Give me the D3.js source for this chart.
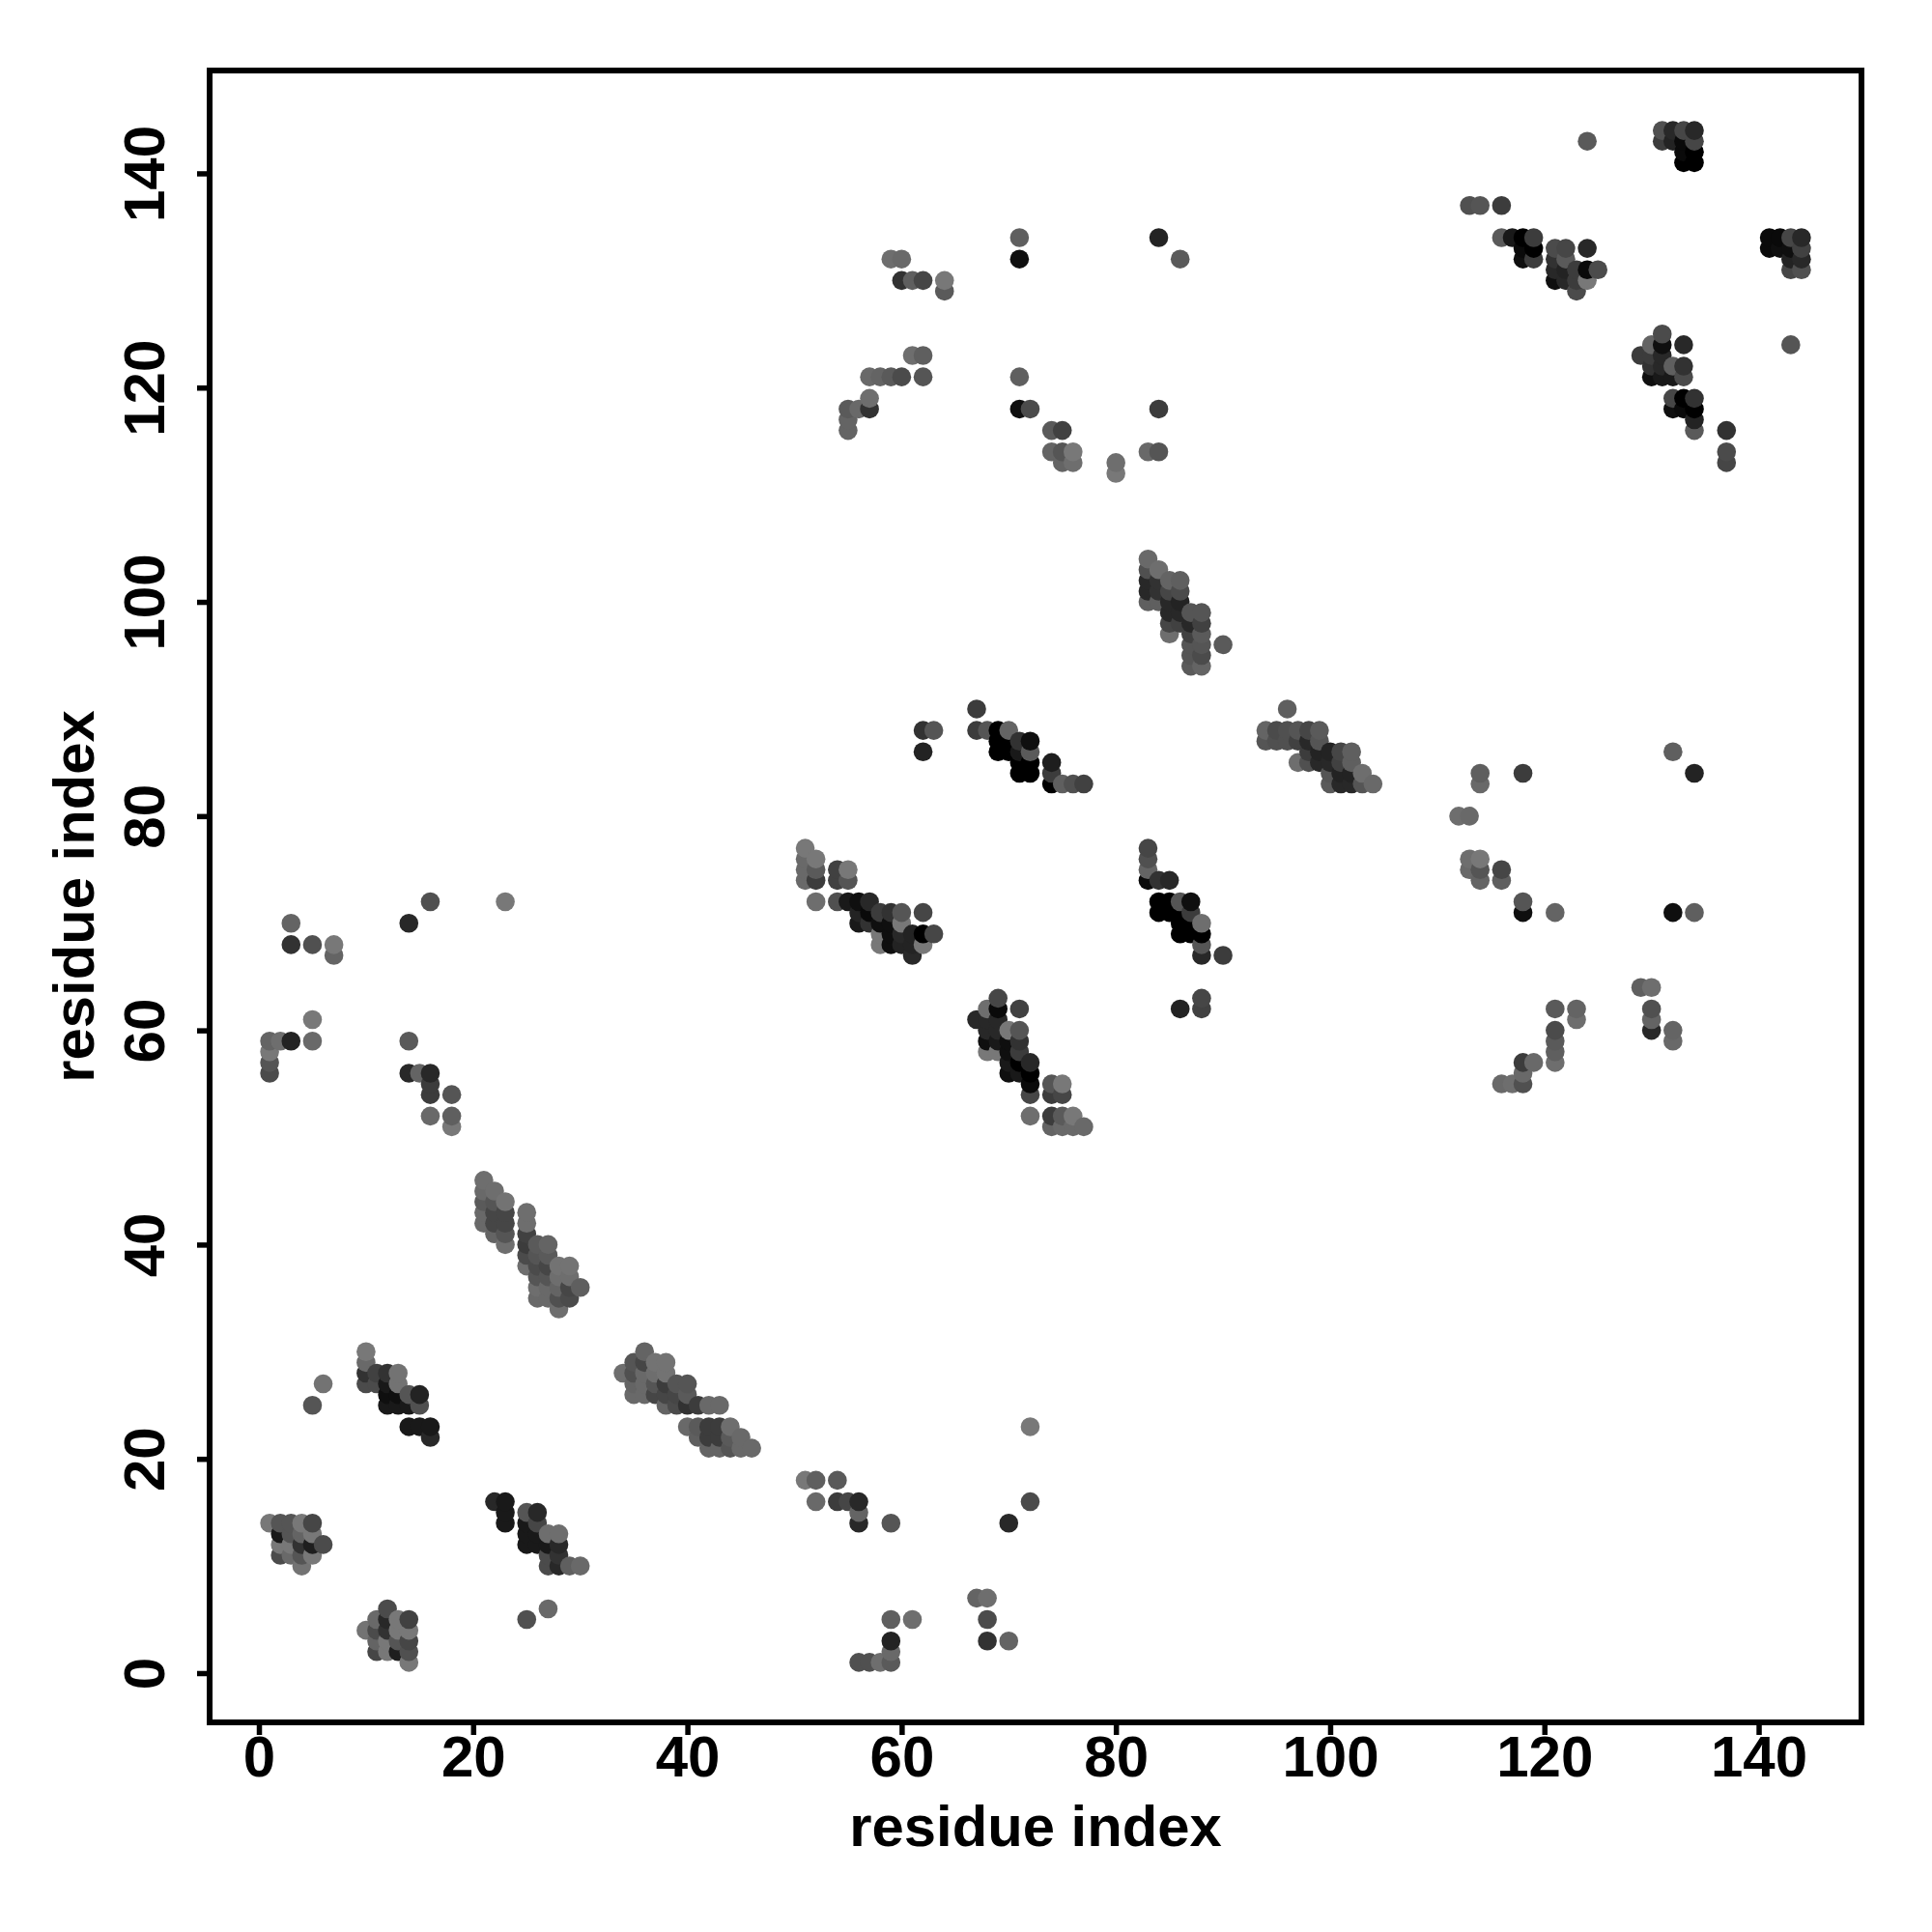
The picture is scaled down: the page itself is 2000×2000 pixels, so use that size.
<!DOCTYPE html>
<html><head><meta charset="utf-8">
<script src="https://cdn.jsdelivr.net/npm/d3@7"></script>
<style>html,body{margin:0;background:#fff}svg{display:block}text{font-family:"Liberation Sans",Arial,sans-serif;font-weight:bold;fill:#000}</style>
</head><body><div id="chart"></div>
<script>
// each contact: [residue i, residue j, strength]
const helixA = [[1,14,0],[2,14,3.5],[3,14,3.5],[4,14,0],[5,14,5],[2,13,9.5],[3,13,3.5],[4,13,2],[5,13,0],[2,12,0],[3,12,0],[4,12,7],[5,12,9],[6,12,4.5],[2,11,4.5],[3,11,1.5],[4,11,3.5],[5,11,0],[4,10,0.5]];
const helixB = [[12,6,4.5],[11,5,1.5],[12,5,8],[13,5,0],[14,5,5.5],[10,4,0.5],[11,4,4.5],[12,4,7],[13,4,0],[14,4,0],[11,3,2],[12,3,0],[13,3,3.5],[14,3,5],[11,2,5],[12,2,0],[13,2,9],[14,2,4],[14,1,0]];
const helixC = [[10,30,0],[10,29,1.5],[10,28,7],[11,28,5.5],[12,28,7],[13,28,0.5],[10,27,4.5],[11,27,4.5],[12,27,9.5],[13,27,0.5],[12,26,10.5],[13,26,10.5],[14,26,3.5],[15,26,8.5],[12,25,9.5],[13,25,9.5],[14,25,9.5],[15,25,4],[14,23,9.5],[15,23,9.5],[16,23,9.5],[16,22,8],[6,27,0.5],[5,25,3.5]];
const helixD = [[22,16,8],[23,16,9.5],[23,15,9.5],[23,14,9.5],[25,15,3.5],[26,15,8],[25,14,9.5],[26,14,5],[25,13,9.5],[26,13,9.5],[27,13,1],[28,13,1],[25,12,9.5],[26,12,9.5],[27,12,9.5],[28,12,8],[27,11,4.5],[28,11,7],[27,10,4.5],[28,10,8],[29,10,2.5],[30,10,1.5],[27,6,1.5],[25,5,4]];
const helixE = [[21,46,1],[21,45,1.5],[21,44,3],[21,43,1.5],[21,42,1.5],[22,45,1],[22,44,3.5],[22,43,5],[22,42,5],[22,41,2],[23,44,0.5],[23,43,5],[23,42,5],[23,41,3.5],[23,40,1],[25,43,1],[25,42,1],[25,41,5.5],[25,40,6],[25,39,4.5],[25,38,1],[26,40,3],[26,39,3.5],[26,38,4.5],[26,37,3.5],[26,36,1],[26,35,1.5],[27,40,2],[27,39,3],[27,38,5],[27,37,3.5],[27,36,1.5],[27,35,1.5],[28,38,0.5],[28,37,1],[28,36,2],[28,35,4],[28,34,1],[29,38,0.5],[29,37,1],[29,36,5],[29,35,4.5],[30,36,2.5]];
const helixF = [[34,28,1],[35,29,3.5],[35,28,4],[35,27,2],[35,26,1.5],[36,30,2],[36,29,5],[36,28,1.5],[36,27,1.5],[36,26,1.5],[37,29,0.5],[37,28,1],[37,27,3.5],[37,26,5],[38,29,0.5],[38,28,0.5],[38,27,6],[38,26,5],[38,25,2],[39,27,3.5],[39,26,5],[39,25,4.5],[40,27,3.5],[40,26,3],[40,25,7],[41,25,6],[42,25,1.5],[43,25,1.5],[40,23,1.5],[41,23,3],[42,23,6],[43,23,6],[44,23,1],[41,22,2.5],[42,22,6],[43,22,6],[44,22,3],[45,22,1.5],[42,21,2],[43,21,2],[44,21,3.5],[45,21,1.5],[46,21,1.5]];
const lowerRight = [[51,18,0],[52,18,2.5],[54,18,3],[52,16,1.5],[54,16,6],[55,16,5],[56,16,8],[56,15,2],[56,14,8],[59,14,3.5],[72,23,0],[72,16,4.5],[70,14,8],[59,5,2.5],[61,5,1],[59,3,8.5],[59,2,1.5],[59,1,3],[58,1,1],[57,1,4],[56,1,4],[67,7,2],[68,7,1],[68,5,4.5],[68,3,7],[70,3,2]];
const midLeft = [[16,72,4],[23,72,0],[14,70,8],[3,70,2],[3,68,7],[5,68,4],[7,68,0],[7,67,2],[5,61,0],[5,59,1.5],[3,59,8.5],[2,59,1],[1,59,2],[1,58,0],[1,57,3.5],[1,56,4.5],[14,59,3],[14,56,8],[15,56,2],[16,56,8],[16,55,6],[16,54,6],[18,54,3.5],[16,52,1.5],[18,52,2.5],[18,51,0]];
const strandG = [[51,77,0],[51,76,1.5],[51,75,1.5],[51,74,1.5],[52,76,0],[52,75,3],[52,74,6],[52,72,1],[54,75,5.5],[54,74,5.5],[54,72,4],[55,75,0],[55,74,3.5],[55,72,9.5],[56,72,10.5],[56,71,8.5],[56,70,9.5],[57,72,8],[57,71,11],[57,70,7],[58,71,6],[58,70,10.5],[58,69,0],[58,68,0],[59,71,7],[59,70,10.5],[59,69,10.5],[59,68,10.5],[60,71,3.5],[60,70,0],[60,69,8],[60,68,8.5],[61,69,8.5],[61,68,8.5],[61,67,8],[62,71,5],[62,69,12],[62,68,0],[63,69,5]];
const strandH = [[69,63,5],[69,62,11],[68,62,1],[71,62,5.5],[67,61,8],[68,61,8],[68,60,8],[68,59,10.5],[68,58,0],[69,61,8],[69,60,8],[69,59,9.5],[69,58,0],[70,60,0],[70,59,10.5],[70,58,10.5],[70,57,9.5],[70,56,10.5],[71,60,3.5],[71,59,7],[71,58,6],[71,57,12],[71,56,9.5],[72,57,8],[72,56,12],[72,55,11],[72,54,5],[72,52,1],[74,55,3.5],[74,54,6],[74,52,6],[74,51,2],[75,55,0],[75,54,5],[75,52,3],[75,51,1.5],[76,52,0],[76,51,1.5],[77,51,1.5]];
const strandI = [[83,77,5],[83,76,4],[83,75,2],[83,74,11],[84,74,7],[85,74,8],[84,72,12],[84,71,12],[85,72,12],[85,71,12],[86,72,3.5],[86,71,12],[86,70,12],[86,69,12],[87,72,10.5],[87,71,6],[87,70,12],[87,69,12],[88,70,1],[88,69,12],[88,68,3.5],[88,67,8],[90,67,6],[86,62,8.5],[88,63,5],[88,62,5.5]];
const strandJ = [[83,104,1.5],[83,103,4],[83,102,8],[83,101,8],[83,100,2.5],[84,103,1],[84,102,7],[84,101,7],[84,100,2.5],[85,102,2],[85,101,5],[85,100,8],[85,99,8],[85,98,5],[85,97,1],[86,102,2.5],[86,101,4.5],[86,100,8.5],[86,99,8],[86,98,5.5],[87,99,3.5],[87,98,8],[87,97,5.5],[87,96,3.5],[87,95,3.5],[87,94,3],[88,99,3.5],[88,98,5.5],[88,97,3],[88,96,3.5],[88,95,4.5],[88,94,2],[90,96,3]];
const strandK = [[67,90,6],[67,88,6],[68,88,3.5],[69,88,12],[69,87,12],[69,86,12],[70,88,2],[70,87,12],[70,86,12],[71,87,7],[71,86,9.5],[71,85,12],[71,84,12],[72,87,10.5],[72,86,3],[72,85,12],[72,84,12],[74,85,9],[74,84,6],[74,83,12],[75,83,2.5],[76,83,4],[77,83,5.5],[62,88,7],[63,88,3.5],[62,86,8.5]];
const strandL = [[96,90,2.5],[94,88,2],[95,88,4.5],[96,88,4],[97,88,3.5],[98,88,5],[99,88,3],[94,87,3.5],[95,87,4],[96,87,4],[97,87,5.5],[98,87,8],[99,87,3.5],[98,86,6],[99,86,8.5],[100,86,8.5],[101,86,5],[102,86,2.5],[97,85,1],[98,85,4],[99,85,8],[100,85,8],[101,85,5.5],[102,85,2.5],[100,84,3.5],[101,84,8.5],[102,84,8.5],[103,84,1],[100,83,3],[101,83,8],[102,83,8],[103,83,3.5],[104,83,1.5]];
const scatterRight = [[132,86,2.5],[134,84,8.5],[114,84,2.5],[114,83,1.5],[118,84,6],[112,80,1],[113,80,1.5],[113,76,1],[113,75,1.5],[114,76,0],[114,75,3.5],[114,74,2],[116,75,5],[116,74,2.5],[118,72,3.5],[118,71,10.5],[121,71,2],[132,71,10.5],[134,71,2.5],[129,64,2.5],[130,64,1],[130,62,4],[130,61,2],[130,60,8],[132,60,2],[132,59,1.5],[121,62,3],[123,62,2],[123,61,1],[121,60,4.5],[121,59,3],[121,58,2.5],[121,57,1],[118,57,6],[119,57,1.5],[118,56,1.5],[118,55,4],[117,55,1],[116,55,1.5]];
const scatterTop = [[59,132,1],[60,132,1.5],[60,130,7],[61,130,2.5],[62,130,5],[64,130,0],[64,129,3],[71,134,2.5],[71,132,10.5],[84,134,8.5],[86,132,3],[61,123,1],[62,123,2.5],[57,121,1.5],[58,121,2],[59,121,3],[60,121,4.5],[62,121,3.5],[71,121,2.5],[71,118,10.5],[72,118,4.5],[84,118,6],[55,118,3],[56,118,1.5],[57,119,1],[57,118,7],[55,117,2],[55,116,2],[74,116,3],[75,116,5.5],[74,114,2],[75,114,3.5],[76,114,0],[75,113,2],[76,113,1],[80,113,1],[80,112,0],[83,114,1.5],[84,114,3.5]];
const cornerTop = [[124,143,3],[131,144,4],[131,143,6],[132,144,8],[132,143,8.5],[133,144,5],[133,143,11],[133,142,11],[133,141,12],[134,144,8],[134,143,5],[134,142,12],[134,141,12],[143,124,3.5]];
const cornerMid = [[113,137,4],[114,137,3.5],[116,137,6],[116,134,3],[117,134,9.5],[118,134,12],[118,133,11],[118,132,10.5],[119,134,6],[119,133,12],[119,132,6],[121,133,4.5],[121,132,7],[121,131,8],[121,130,10.5],[122,133,5],[122,132,3],[122,131,8.5],[122,130,8],[123,131,6],[123,130,6],[123,129,4.5],[124,133,8],[124,131,11],[124,130,0],[125,131,4.5]];
const cornerRight = [[141,134,11],[141,133,11],[142,134,11],[142,133,10.5],[143,134,5],[143,133,10.5],[143,132,8.5],[143,131,5],[144,134,8],[144,133,5.5],[144,132,8],[144,131,4]];
const cornerLow = [[131,125,4.5],[131,124,10.5],[130,124,2],[133,124,8],[129,123,6],[130,123,6],[130,122,7],[130,121,10.5],[131,123,8],[131,122,8],[131,121,9.5],[132,122,2.5],[132,121,9.5],[133,122,7],[133,121,4.5],[132,119,5],[132,118,10.5],[133,119,12],[133,118,11],[134,119,7],[134,118,12],[134,117,8.5],[134,116,3],[137,116,7],[137,114,4.5],[137,113,5]];
const tickValues = [0,20,40,60,80,100,120,140];
const axisLabel = "residue index";

const contacts = [].concat(helixA,helixB,helixC,helixD,helixE,helixF,lowerRight,midLeft,strandG,strandH,strandI,strandJ,strandK,strandL,scatterRight,scatterTop,cornerTop,cornerMid,cornerRight,cornerLow)
  .sort((a,b)=>d3.ascending(a[0],b[0])||d3.ascending(a[1],b[1]));

const W=2000,H=2000,L=217,R=1927,T=73,B=1783;
const x=d3.scaleLinear().domain([-4.6,149.6]).range([L,R]);
const y=d3.scaleLinear().domain([-4.6,149.6]).range([B,T]);
const shade=d3.scaleLinear().domain([0,12]).range([120,0]);
const svg=d3.select("#chart").append("svg").attr("width",W).attr("height",H);

svg.append("g").selectAll("circle").data(contacts).join("circle")
  .attr("cx",d=>x(d[0])).attr("cy",d=>y(d[1])).attr("r",9.8)
  .attr("fill",d=>{const g=Math.round(shade(d[2]));return `rgb(${g},${g},${g})`;});

svg.append("rect").attr("x",L).attr("y",T).attr("width",R-L).attr("height",B-T)
  .attr("fill","none").attr("stroke","#000").attr("stroke-width",6);

const gx=svg.append("g").attr("transform",`translate(0,${B})`)
  .call(d3.axisBottom(x).tickValues(tickValues).tickSize(13));
const gy=svg.append("g").attr("transform",`translate(${L},0)`)
  .call(d3.axisLeft(y).tickValues(tickValues).tickSize(13));
[gx,gy].forEach(g=>{g.attr("font-family",null);g.select(".domain").remove();g.selectAll("line").attr("stroke","#000").attr("stroke-width",5.5);
  g.selectAll("text").attr("font-size",60).style("fill","#000");});
gx.selectAll("text").attr("y",56).attr("dy",0);
gy.selectAll("text").attr("dy",0).attr("x",0).attr("y",0).attr("text-anchor","middle")
  .attr("transform","translate(-47,0) rotate(-90)");

svg.append("text").attr("x",(L+R)/2).attr("y",1911).attr("text-anchor","middle").attr("font-size",59.8).text(axisLabel);
svg.append("text").attr("transform",`translate(97,${(T+B)/2}) rotate(-90)`).attr("text-anchor","middle").attr("font-size",59.8).text(axisLabel);
</script></body></html>
